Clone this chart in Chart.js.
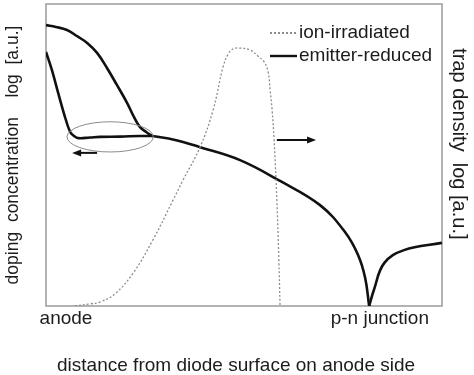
<!DOCTYPE html>
<html>
<head>
<meta charset="utf-8">
<script src="https://cdn.jsdelivr.net/npm/chart.js@4.4.0/dist/chart.umd.min.js"></script>
<style>
  html, body { margin: 0; padding: 0; background: #fff; }
  #wrap { width: 474px; height: 375px; }
</style>
</head>
<body>
<div id="wrap"><canvas id="chart"></canvas></div>
<script>
// axis ticks (distance from surface, arbitrary 0..100)
const xTickValues = [5.05, 84.3];
const xTickLabels = ["anode", "p-n junction"];
const seriesNames = ["ion-irradiated", "emitter-reduced"];

// ion-irradiated trap density (dotted)
const ionX = [7.3, 11.1, 13.6, 17.4, 22.0, 27.0, 32.1, 34.6, 38.9, 42.2, 44.7, 46.0, 47.2, 49.0, 51.5, 53.5, 55.1, 56.1, 56.6, 57.1, 57.6, 58.3, 58.8, 59.1];
const ionY = [0, 0.7, 1.3, 4.0, 10.9, 21.9, 35.1, 41.7, 52.6, 64.9, 79.1, 83.4, 85.1, 85.4, 84.8, 82.8, 80.8, 77.5, 71.5, 64.9, 55.0, 35.1, 15.2, 0];

// emitter-reduced doping: original (upper) and reduced (lower) anode emitter
const upperX = [0, 2.5, 5.3, 7.8, 10.4, 12.9, 15.4, 17.9, 20.5, 22.2, 23.7, 25.3, 26.8];
const upperY = [93.0, 92.4, 91.4, 89.4, 87.1, 83.8, 78.8, 73.2, 67.2, 62.6, 59.3, 57.6, 56.3];
const lowerX = [0, 1.5, 3.0, 4.5, 6.1, 7.1, 8.1, 11.1, 13.6, 18.7, 23.7, 26.8];
const lowerY = [84.1, 78.1, 70.9, 63.9, 57.6, 56.3, 55.6, 55.8, 56.0, 56.1, 56.3, 56.3];
// shared part down to the junction, then the n-side
const baseX = [26.8, 32.6, 38.9, 49.0, 59.1, 69.2, 75.5, 78.8, 80.6, 81.6];
const baseY = [56.3, 55.0, 52.6, 48.3, 41.4, 33.4, 24.5, 16.9, 9.3, 0];
const nSideX = [81.6, 82.8, 85.4, 90.4, 100];
const nSideY = [0, 5.3, 14.2, 18.5, 20.9];

// annotation: ellipse around the reduced emitter, arrows to the axes
const ellipseCenter = [16.2, 56.0];
const ellipseRadius = [10.9, 5.0];
const arrowLeft = [[12.9, 50.7], [6.6, 50.7]];
const arrowRight = [[58.3, 55.0], [68.2, 55.0]];

const pts = (xs, ys) => xs.map((x, i) => ({ x: x, y: ys[i] }));

const FONT = "'Liberation Sans', Arial, Helvetica, sans-serif";
const TXT = "#1c1c1c";

const ionStyle = {
  borderColor: "#8c8c8c",
  borderWidth: 1.3,
  borderDash: [2, 2],
};
const emitStyle = {
  borderColor: "#111",
  borderWidth: 2.6,
};

const extras = {
  id: "extras",
  beforeDatasetsDraw(chart) {
    const { ctx, chartArea: a } = chart;
    ctx.save();
    ctx.strokeStyle = "#9a9a9a";
    ctx.lineWidth = 1.5;
    ctx.strokeRect(a.left, a.top, a.right - a.left, a.bottom - a.top);
    ctx.restore();
  },
  afterDatasetsDraw(chart) {
    const { ctx } = chart;
    const xs = chart.scales.x;
    const ys = chart.scales.y;
    ctx.save();

    // ellipse
    const cx = xs.getPixelForValue(ellipseCenter[0]);
    const cy = ys.getPixelForValue(ellipseCenter[1]);
    const rx = Math.abs(xs.getPixelForValue(ellipseCenter[0] + ellipseRadius[0]) - cx);
    const ry = Math.abs(ys.getPixelForValue(ellipseCenter[1] + ellipseRadius[1]) - cy);
    ctx.strokeStyle = "#8a8a8a";
    ctx.lineWidth = 1;
    ctx.beginPath();
    ctx.ellipse(cx, cy, rx, ry, 0, 0, Math.PI * 2);
    ctx.stroke();

    // arrows
    [arrowLeft, arrowRight].forEach(([from, to]) => {
      const x1 = xs.getPixelForValue(from[0]), y1 = ys.getPixelForValue(from[1]);
      const x2 = xs.getPixelForValue(to[0]), y2 = ys.getPixelForValue(to[1]);
      const dir = Math.sign(x2 - x1);
      ctx.strokeStyle = "#111";
      ctx.fillStyle = "#111";
      ctx.lineWidth = 2;
      ctx.beginPath();
      ctx.moveTo(x1, y1);
      ctx.lineTo(x2 - dir * 6, y2);
      ctx.stroke();
      ctx.beginPath();
      ctx.moveTo(x2, y2);
      ctx.lineTo(x2 - dir * 9, y2 - 3.5);
      ctx.lineTo(x2 - dir * 9, y2 + 3.5);
      ctx.closePath();
      ctx.fill();
    });

    // legend
    const items = [
      { text: seriesNames[0], style: ionStyle, y: 33 },
      { text: seriesNames[1], style: emitStyle, y: 56 },
    ];
    ctx.font = "19px " + FONT;
    ctx.textBaseline = "middle";
    items.forEach((it) => {
      ctx.strokeStyle = it.style.borderColor;
      ctx.lineWidth = it.style === emitStyle ? 2.4 : 2;
      ctx.setLineDash(it.style.borderDash || []);
      ctx.beginPath();
      ctx.moveTo(270, it.y);
      ctx.lineTo(297, it.y);
      ctx.stroke();
      ctx.setLineDash([]);
      ctx.fillStyle = TXT;
      ctx.fillText(it.text, 299, it.y);
    });
    ctx.restore();
  },
};

const line = (label, data, style) =>
  Object.assign({ label, data, pointRadius: 0, fill: false, showLine: true, tension: 0.4 }, style);

new Chart(document.getElementById("chart"), {
  type: "scatter",
  data: {
    datasets: [
      line(seriesNames[0], pts(ionX, ionY), ionStyle),
      line(seriesNames[1], pts(upperX, upperY), emitStyle),
      line(seriesNames[1], pts(lowerX, lowerY), emitStyle),
      line(seriesNames[1], pts(baseX, baseY), emitStyle),
      line(seriesNames[1], pts(nSideX, nSideY), emitStyle),
    ],
  },
  options: {
    responsive: true,
    maintainAspectRatio: false,
    animation: false,
    layout: { padding: { top: 4, left: 0, right: 0, bottom: 0 } },
    plugins: { legend: { display: false }, tooltip: { enabled: false } },
    scales: {
      x: {
        type: "linear",
        min: 0,
        max: 100,
        grid: { display: false, drawTicks: false },
        border: { display: false },
        afterBuildTicks: (s) => { s.ticks = xTickValues.map((v) => ({ value: v })); },
        afterFit: (s) => { s.height = 69; },
        ticks: {
          padding: 1,
          maxRotation: 0,
          autoSkip: false,
          color: TXT,
          font: { family: FONT, size: 19 },
          callback: (v) => xTickLabels[xTickValues.indexOf(v)],
        },
        title: {
          display: true,
          text: "distance from diode surface on anode side   ",
          color: TXT,
          font: { family: FONT, size: 19, lineHeight: 1 },
          padding: { top: 0, bottom: 0 },
        },
      },
      y: {
        type: "linear",
        min: 0,
        max: 100,
        grid: { display: false, drawTicks: false },
        border: { display: false },
        ticks: { display: false },
        afterFit: (s) => { s.width = 46; },
        title: {
          display: true,
          text: "doping  concentration    log  [a.u.]",
          color: TXT,
          font: { family: FONT, size: 17.5, lineHeight: 1 },
          padding: { top: 4, bottom: 0 },
        },
      },
      y2: {
        type: "linear",
        position: "right",
        min: 0,
        max: 100,
        grid: { display: false, drawTicks: false },
        border: { display: false },
        ticks: { display: false },
        afterFit: (s) => { s.width = 32; },
        title: {
          display: true,
          text: "trap density  log [a.u.]    ",
          color: TXT,
          font: { family: FONT, size: 20, lineHeight: 1 },
          padding: { top: 5, bottom: 0 },
        },
      },
    },
  },
  plugins: [extras],
});
</script>
</body>
</html>
